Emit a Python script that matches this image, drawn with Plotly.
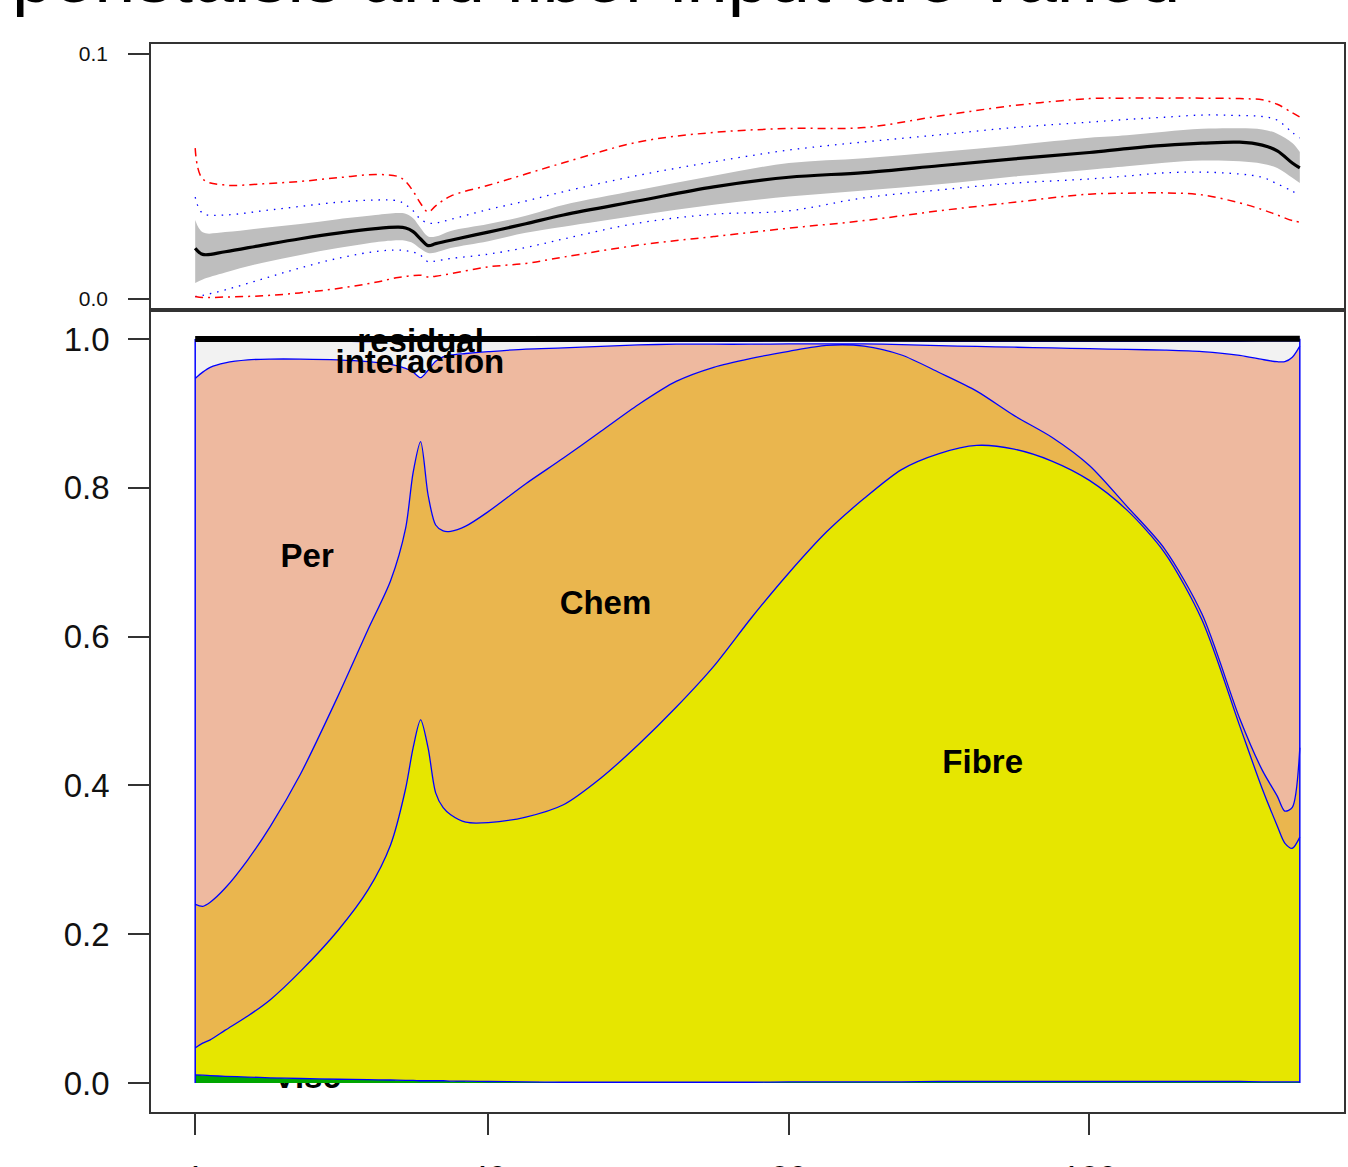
import numpy as np
import plotly.graph_objects as go

# ---------------- bottom panel: stacked sensitivity shares ----------------
x_grid = [1, 2, 3, 5, 8, 11, 15, 20, 24, 27, 29, 30, 31, 32, 33, 34, 35, 37, 40, 45,
          50, 55, 60, 65, 70, 75, 80, 85, 90, 95, 100, 105, 110, 115, 120, 125, 130, 135,
          140, 143, 145, 146, 147, 148]

visc = [0.011, 0.0105, 0.010, 0.009, 0.008, 0.007, 0.006, 0.005, 0.0045, 0.004,
        0.0035, 0.0035, 0.003, 0.003, 0.003, 0.003, 0.0025, 0.0025, 0.002, 0.0015,
        0.001, 0.001, 0.001, 0.001, 0.001, 0.001, 0.0015, 0.0015, 0.0015, 0.0015,
        0.002, 0.002, 0.002, 0.002, 0.002, 0.002, 0.002, 0.002, 0.002, 0.0015,
        0.0015, 0.0015, 0.0015, 0.0015]

fibre = [0.036, 0.043, 0.048, 0.062, 0.082, 0.105, 0.144, 0.200, 0.255, 0.316,
         0.392, 0.447, 0.485, 0.447, 0.387, 0.367, 0.358, 0.348, 0.348, 0.356,
         0.373, 0.409, 0.454, 0.504, 0.559, 0.624, 0.684, 0.739, 0.784, 0.823,
         0.844, 0.855, 0.850, 0.834, 0.808, 0.768, 0.711, 0.620, 0.478, 0.394,
         0.344, 0.321, 0.314, 0.329]

chem = [0.193, 0.184, 0.185, 0.191, 0.210, 0.233, 0.265, 0.315, 0.350, 0.355,
        0.350, 0.370, 0.374, 0.340, 0.360, 0.372, 0.381, 0.398, 0.418, 0.448,
        0.466, 0.466, 0.457, 0.438, 0.402, 0.349, 0.298, 0.251, 0.205, 0.154,
        0.109, 0.073, 0.045, 0.032, 0.020, 0.005, 0.005, 0.008, 0.010, 0.025,
        0.040, 0.043, 0.055, 0.120]

per = [0.707, 0.718, 0.719, 0.706, 0.672, 0.628, 0.558, 0.452, 0.360, 0.291,
       0.215, 0.135, 0.086, 0.168, 0.220, 0.234, 0.237, 0.232, 0.215, 0.181,
       0.148, 0.114, 0.080, 0.050, 0.031, 0.019, 0.010, 0.002, 0.003, 0.014,
       0.036, 0.060, 0.092, 0.120, 0.157, 0.211, 0.267, 0.353, 0.488, 0.552,
       0.584, 0.604, 0.605, 0.540]

interaction = [0.050, 0.042, 0.035, 0.029, 0.025, 0.024, 0.024, 0.025, 0.027, 0.031,
               0.037, 0.042, 0.049, 0.039, 0.027, 0.021, 0.019, 0.017, 0.014, 0.011,
               0.009, 0.007, 0.005, 0.004, 0.004, 0.004, 0.004, 0.004, 0.004, 0.005,
               0.006, 0.007, 0.008, 0.009, 0.010, 0.011, 0.012, 0.014, 0.019, 0.025,
               0.028, 0.028, 0.022, 0.007]

residual = [0.003, 0.003, 0.003, 0.003, 0.003, 0.003, 0.003, 0.003, 0.003, 0.003,
            0.003, 0.003, 0.003, 0.003, 0.003, 0.003, 0.003, 0.003, 0.003, 0.003,
            0.003, 0.003, 0.003, 0.003, 0.003, 0.003, 0.003, 0.003, 0.003, 0.003,
            0.003, 0.003, 0.003, 0.003, 0.003, 0.003, 0.003, 0.003, 0.003, 0.003,
            0.003, 0.003, 0.003, 0.003]

layer_names = ["Visc", "Fibre", "Chem", "Per", "interaction", "residual"]
layer_colors = ["#00A600", "#E6E600", "#EAB64E", "#EEB99F", "#F2F2F2", "#000000"]

# label positions (x, y) for the factor names
label_x = [15.9, 105.8, 55.6, 15.9, 30.9, 31.0]
label_y = [0.004, 0.428, 0.641, 0.704, 0.966, 0.993]

# ---------------- top panel: total variance with bands ----------------
x_top = [1, 2, 5, 10, 15, 20, 25, 28, 29, 30, 31, 32, 33, 35, 40, 45, 50, 60, 70, 80,
         90, 100, 110, 120, 125, 130, 135, 140, 143, 145, 147, 148]

mean_top = [0.0207, 0.0182, 0.0193, 0.0220, 0.0246, 0.0269, 0.0287, 0.0293, 0.0290, 0.0275,
            0.0245, 0.0218, 0.0226, 0.0240, 0.0273, 0.0307, 0.0343, 0.0401, 0.0458, 0.0497,
            0.0516, 0.0544, 0.0572, 0.0598, 0.0614, 0.0627, 0.0636, 0.0640, 0.0628, 0.0605,
            0.0555, 0.0535]

band_upper = [0.0322, 0.0272, 0.0273, 0.0290, 0.0306, 0.0326, 0.0343, 0.0351, 0.0348, 0.0330,
              0.0290, 0.0255, 0.0255, 0.0278, 0.0306, 0.0340, 0.0384, 0.0445, 0.0503, 0.0555,
              0.0575, 0.0600, 0.0628, 0.0658, 0.0668, 0.0683, 0.0695, 0.0697, 0.0692, 0.0675,
              0.0637, 0.0600]

band_lower = [0.0065, 0.0080, 0.0108, 0.0148, 0.0180, 0.0208, 0.0232, 0.0240, 0.0238, 0.0228,
              0.0205, 0.0188, 0.0190, 0.0208, 0.0236, 0.0270, 0.0295, 0.0342, 0.0385, 0.0418,
              0.0443, 0.0468, 0.0500, 0.0528, 0.0542, 0.0556, 0.0565, 0.0562, 0.0552, 0.0535,
              0.0495, 0.0473]

blue_upper = [0.0416, 0.0350, 0.0343, 0.0360, 0.0378, 0.0395, 0.0404, 0.0400, 0.0385, 0.0360,
              0.0325, 0.0310, 0.0310, 0.0325, 0.0365, 0.0400, 0.0438, 0.0505, 0.0560, 0.0608,
              0.0641, 0.0670, 0.0700, 0.0722, 0.0733, 0.0742, 0.0751, 0.0749, 0.0745, 0.0730,
              0.0680, 0.0657]

blue_lower = [0.0010, 0.0015, 0.0037, 0.0082, 0.0127, 0.0166, 0.0194, 0.0200, 0.0197, 0.0192,
              0.0178, 0.0152, 0.0155, 0.0165, 0.0183, 0.0210, 0.0245, 0.0310, 0.0346, 0.0360,
              0.0413, 0.0445, 0.0473, 0.0490, 0.0502, 0.0515, 0.0518, 0.0510, 0.0497, 0.0470,
              0.0440, 0.0424]

red_upper = [0.0616, 0.0490, 0.0465, 0.0470, 0.0480, 0.0495, 0.0508, 0.0500, 0.0480, 0.0440,
             0.0390, 0.0355, 0.0380, 0.0420, 0.0464, 0.0510, 0.0556, 0.0641, 0.0680, 0.0696,
             0.0700, 0.0747, 0.0790, 0.0818, 0.0820, 0.0820, 0.0820, 0.0818, 0.0813, 0.0795,
             0.0760, 0.0743]

red_lower = [0.0010, 0.0006, 0.0008, 0.0013, 0.0025, 0.0043, 0.0068, 0.0088, 0.0092, 0.0096,
             0.0097, 0.0090, 0.0093, 0.0103, 0.0131, 0.0145, 0.0171, 0.0220, 0.0255, 0.0289,
             0.0320, 0.0360, 0.0395, 0.0428, 0.0432, 0.0433, 0.0425, 0.0392, 0.0365, 0.0343,
             0.0320, 0.0314]

x_ticks = [1, 40, 80, 120]
y_ticks_bottom = [0.0, 0.2, 0.4, 0.6, 0.8, 1.0]
y_ticks_top = [0.0, 0.1]

title_text = "peristalsis and fiber input are varied"

# ---------------- figure ----------------
W, H = 1348, 1167
ML, MR, MT, MB = 151, 4, 44, 55
plot_h = H - MT - MB
split = 1 - 266 / plot_h
visc_strip = 29 / plot_h

fig = go.Figure()

# Visc label, clipped so only its lower half shows below the zero line
fig.add_trace(go.Scatter(x=[label_x[0]], y=[label_y[0]], mode="text", text=["<b>Visc</b>"],
                         textfont=dict(family="Liberation Sans", size=33, color="black"),
                         cliponaxis=True, xaxis="x2", yaxis="y3", showlegend=False,
                         hoverinfo="skip"))

series = [visc, fibre, chem, per, interaction, residual]
for name, vals, col in zip(layer_names, series, layer_colors):
    fig.add_trace(go.Scatter(
        x=x_grid, y=vals, name=name, stackgroup="s", mode="lines",
        line=dict(color="#0000FF" if name != "residual" else "#000000",
                  width=1.3 if name != "residual" else 0, shape="spline", smoothing=0.8),
        fillcolor=col, xaxis="x2", yaxis="y2", showlegend=False, hoverinfo="skip"))

total = np.sum(np.array(series), axis=0)

# polygon side edges
for xi in (0, -1):
    fig.add_trace(go.Scatter(x=[x_grid[xi], x_grid[xi]], y=[0, total[xi]], mode="lines",
                             line=dict(color="#0000FF", width=1.5), xaxis="x2", yaxis="y2",
                             showlegend=False, hoverinfo="skip"))

fig.add_trace(go.Scatter(
    x=label_x[1:], y=label_y[1:], mode="text",
    text=["<b>" + n + "</b>" for n in layer_names[1:]],
    textfont=dict(family="Liberation Sans", size=33, color="black"),
    xaxis="x2", yaxis="y2", showlegend=False, hoverinfo="skip", cliponaxis=False))

fig.add_trace(go.Scatter(x=x_grid, y=total, mode="lines",
                         line=dict(color="black", width=6), xaxis="x2", yaxis="y2",
                         showlegend=False, hoverinfo="skip"))

# top panel
fig.add_trace(go.Scatter(x=x_top, y=band_lower, mode="lines", line=dict(width=0, shape="spline"),
                         xaxis="x", yaxis="y", showlegend=False, hoverinfo="skip"))
fig.add_trace(go.Scatter(x=x_top, y=band_upper, mode="lines", line=dict(width=0, shape="spline"),
                         fill="tonexty", fillcolor="#BEBEBE", xaxis="x", yaxis="y",
                         showlegend=False, hoverinfo="skip"))
for arr in (blue_upper, blue_lower):
    fig.add_trace(go.Scatter(x=x_top, y=arr, mode="lines",
                             line=dict(color="#0000FF", width=1.3, dash="1.5px,6px", shape="spline"),
                             xaxis="x", yaxis="y", showlegend=False, hoverinfo="skip"))
for arr in (red_upper, red_lower):
    fig.add_trace(go.Scatter(x=x_top, y=arr, mode="lines",
                             line=dict(color="#FF0000", width=1.5, dash="8px,5px,2px,5px", shape="spline"),
                             xaxis="x", yaxis="y", showlegend=False, hoverinfo="skip"))
fig.add_trace(go.Scatter(x=x_top, y=mean_top, mode="lines",
                         line=dict(color="black", width=3.2, shape="spline"),
                         xaxis="x", yaxis="y", showlegend=False, hoverinfo="skip"))

xr = [-4.88, 153.88]
box = dict(showline=True, linecolor="#333333", linewidth=1.5, mirror=True, showgrid=False,
           zeroline=False, automargin=False)

fig.update_layout(
    width=W, height=H, paper_bgcolor="white", plot_bgcolor="white",
    margin=dict(l=ML, r=MR, t=MT, b=MB, autoexpand=False), showlegend=False,
    font=dict(family="Liberation Sans", color="black"),
    xaxis=dict(domain=[0, 1], anchor="y", range=xr, showticklabels=False, ticks="",
               matches="x2", **box),
    yaxis=dict(domain=[split, 1], anchor="x", range=[-0.0045, 0.1041],
               tickvals=y_ticks_top, ticktext=["%.1f" % v for v in y_ticks_top],
               ticks="outside", ticklen=21, tickwidth=1.5, tickcolor="#333333",
               tickfont=dict(size=21, family="Liberation Sans", color="#111111"),
               ticklabelstandoff=16, **box),
    xaxis2=dict(domain=[0, 1], anchor="y2", range=xr,
                tickvals=x_ticks, ticktext=[str(v) for v in x_ticks],
                ticks="outside", ticklen=21, tickwidth=1.5, tickcolor="#333333",
                tickfont=dict(size=33, family="Liberation Sans", color="black"),
                ticklabelstandoff=15, **box),
    yaxis2=dict(domain=[0, split], anchor="x2", range=[-0.039, 1.039],
                tickvals=y_ticks_bottom, ticktext=["%.1f" % v for v in y_ticks_bottom],
                ticks="outside", ticklen=21, tickwidth=1.5, tickcolor="#333333",
                tickfont=dict(size=33, family="Liberation Sans", color="#111111"),
                ticklabelstandoff=12, **box),
    yaxis3=dict(domain=[0, visc_strip], anchor="x2", range=[-0.039, 0], visible=False,
                showgrid=False, zeroline=False),
    annotations=[dict(text=title_text, xref="paper", yref="paper", x=-0.118, y=1.0225,
                      xanchor="left", yanchor="bottom", showarrow=False,
                      font=dict(family="Liberation Sans", size=74, color="black"))],
)

fig.write_html("out.html", config={"displayModeBar": False},
               post_script="document.body.style.margin='0';document.body.style.overflow='hidden';")
